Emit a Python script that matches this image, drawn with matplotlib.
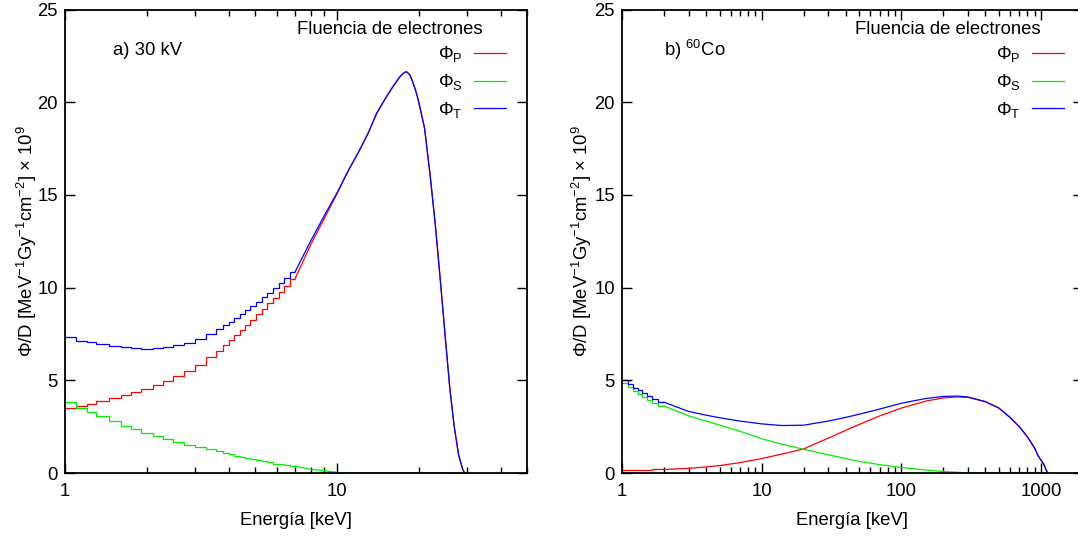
import matplotlib
matplotlib.use("Agg")
import matplotlib.pyplot as plt
from matplotlib.ticker import FixedLocator, FixedFormatter, LogLocator, NullFormatter

plt.rcParams['font.family'] = ['Liberation Sans', 'DejaVu Sans']
plt.rcParams['mathtext.fontset'] = 'custom'
plt.rcParams['mathtext.rm'] = 'Liberation Sans'
plt.rcParams['mathtext.it'] = 'Liberation Sans:italic'
plt.rcParams['mathtext.bf'] = 'Liberation Sans:bold'

# ---------------- Panel a) 30 kV ----------------
a_step_edges = [1.0, 1.1, 1.2, 1.3, 1.45, 1.6, 1.75, 1.9, 2.1, 2.3, 2.5, 2.75, 3.0, 3.3,
                3.6, 3.8, 4.0, 4.2, 4.4, 4.6, 4.8, 5.05, 5.3, 5.55, 5.8, 6.1, 6.4, 6.7, 7.0]
a_step_P = [3.50, 3.62, 3.74, 3.90, 4.05, 4.22, 4.38, 4.55, 4.76, 4.98, 5.22, 5.50, 5.84,
            6.25, 6.60, 6.88, 7.15, 7.42, 7.70, 7.96, 8.25, 8.55, 8.85, 9.15, 9.45, 9.78,
            10.10, 10.45]
a_step_S = [3.85, 3.50, 3.30, 3.05, 2.80, 2.55, 2.35, 2.15, 1.98, 1.82, 1.66, 1.52, 1.40,
            1.27, 1.16, 1.08, 1.00, 0.93, 0.87, 0.81, 0.75, 0.69, 0.63, 0.57, 0.51, 0.46,
            0.41, 0.37]
a_step_T = [7.35, 7.12, 7.04, 6.95, 6.85, 6.77, 6.73, 6.70, 6.74, 6.80, 6.88, 7.02, 7.24,
            7.52, 7.76, 7.96, 8.15, 8.35, 8.57, 8.77, 9.00, 9.24, 9.48, 9.72, 9.96, 10.24,
            10.51, 10.82]

a_E = [7.0, 8.0, 9.0, 10.0, 11.0, 12.0, 13.0, 14.0, 15.0, 16.0, 17.0, 17.5, 18.0, 18.5,
       19.0, 19.5, 20.0, 21.0, 22.0, 23.0, 24.0, 25.0, 26.0, 27.0, 28.0, 29.0, 29.5]
a_P = [10.45, 12.30, 13.75, 15.05, 16.30, 17.30, 18.30, 19.40, 20.15, 20.80, 21.35, 21.55,
       21.65, 21.50, 21.10, 20.60, 20.00, 18.60, 16.10, 13.40, 10.40, 7.40, 4.60, 2.50,
       1.00, 0.20, 0.00]
a_S = [0.37, 0.20, 0.12, 0.04, 0.0, 0.0, 0.0, 0.0, 0.0, 0.0, 0.0, 0.0, 0.0, 0.0, 0.0, 0.0,
       0.0, 0.0, 0.0, 0.0, 0.0, 0.0, 0.0, 0.0, 0.0, 0.0, 0.0]
a_T = [10.82, 12.50, 13.90, 15.10, 16.30, 17.30, 18.30, 19.40, 20.15, 20.80, 21.35, 21.55,
       21.65, 21.50, 21.10, 20.60, 20.00, 18.60, 16.10, 13.40, 10.40, 7.40, 4.60, 2.50,
       1.00, 0.20, 0.00]

# ---------------- Panel b) 60Co ----------------
b_step_edges = [1.0, 1.1, 1.2, 1.3, 1.4, 1.5, 1.65, 1.8, 2.0]
b_step_P = [0.16, 0.16, 0.17, 0.17, 0.18, 0.18, 0.19, 0.19]
b_step_S = [4.85, 4.62, 4.42, 4.25, 4.10, 3.95, 3.80, 3.62]
b_step_T = [5.00, 4.80, 4.60, 4.45, 4.30, 4.15, 4.00, 3.82]

b_E = [2, 3, 4, 5, 7, 10, 14, 20, 30, 40, 50, 70, 100, 150, 200, 250, 300, 400, 500, 600,
       700, 800, 900, 950, 1000, 1050, 1100, 1120]
b_P = [0.19, 0.25, 0.33, 0.40, 0.56, 0.78, 1.02, 1.30, 1.88, 2.30, 2.62, 3.08, 3.50, 3.88,
       4.05, 4.10, 4.08, 3.85, 3.50, 3.00, 2.50, 1.95, 1.35, 0.95, 0.70, 0.45, 0.10, 0.00]
b_S = [3.62, 3.08, 2.80, 2.58, 2.25, 1.85, 1.55, 1.28, 0.98, 0.78, 0.63, 0.45, 0.30, 0.16,
       0.08, 0.04, 0.01, 0.0, 0.0, 0.0, 0.0, 0.0, 0.0, 0.0, 0.0, 0.0, 0.0, 0.0]
b_T = [3.82, 3.32, 3.12, 2.98, 2.80, 2.65, 2.56, 2.58, 2.80, 3.00, 3.17, 3.45, 3.76, 4.02,
       4.13, 4.15, 4.10, 3.85, 3.50, 3.00, 2.50, 1.95, 1.35, 0.95, 0.70, 0.45, 0.10, 0.00]

labels = [r'$\Phi_\mathrm{P}$', r'$\Phi_\mathrm{S}$', r'$\Phi_\mathrm{T}$']
colors = ['#ff0000', '#00ee00', '#0000ff']
yticks = [0, 5, 10, 15, 20, 25]

FS = 13.3
W, H = 1078, 537
fig = plt.figure(figsize=(W / 100, H / 100), dpi=100)
ax1 = fig.add_axes([65 / W, 64 / H, 462 / W, 463.5 / H])
ax2 = fig.add_axes([622 / W, 64 / H, 461 / W, 463.5 / H])


def draw(ax, edges, steps, E, series, xlim, xt, xtl, tag, lx, tx, ylx):
    handles = []
    for st, ser, c, lab in zip(steps, series, colors, labels):
        ax.stairs(st, edges, baseline=None, color=c, lw=0.9)
        h, = ax.plot(E, ser, color=c, lw=0.9, label=lab)
        handles.append(h)
    ax.set_xscale('log')
    ax.set_xlim(*xlim)
    ax.set_ylim(0, 25)
    ax.xaxis.set_major_locator(FixedLocator(xt))
    ax.xaxis.set_major_formatter(FixedFormatter(xtl))
    ax.xaxis.set_minor_locator(LogLocator(base=10, subs=range(2, 10), numticks=20))
    ax.xaxis.set_minor_formatter(NullFormatter())
    ax.set_yticks(yticks)
    ax.set_yticklabels([str(v) for v in yticks])
    ax.tick_params(which='both', direction='in', top=True, right=True, labelsize=FS)
    ax.tick_params(which='major', length=7, width=1.0)
    ax.tick_params(which='minor', length=4, width=1.0)
    ax.tick_params(axis='x', which='major', pad=7)
    ax.tick_params(axis='y', which='major', pad=5)
    for s in ax.spines.values():
        s.set_linewidth(1.3)
    ax.set_xlabel('Energía [keV]', fontsize=FS, labelpad=9)
    ax.set_ylabel('Φ/D [MeV$^{-1}$Gy$^{-1}$cm$^{-2}$] × 10$^{9}$', fontsize=FS)
    ax.yaxis.set_label_coords(ylx, 0.5)
    ax.text(tx, 0.912, tag, transform=ax.transAxes,
            fontsize=FS, ha='left', va='center')
    ax.text(lx, 0.956, 'Fluencia de electrones', transform=ax.transAxes,
            fontsize=FS, ha='right', va='center')
    leg = ax.legend(handles=handles, loc='upper right', bbox_to_anchor=(lx + 0.052, 0.925),
                    frameon=False, markerfirst=False, fontsize=FS, borderpad=0,
                    borderaxespad=0, handlelength=1.75, handletextpad=0.6,
                    labelspacing=0.42)
    for t in leg.get_texts():
        t.set_ha('right')


draw(ax1, a_step_edges, [a_step_P, a_step_S, a_step_T], a_E, [a_P, a_S, a_T],
     (1, 50), [1, 10], ['1', '10'], 'a) 30 kV', 0.903, 0.104, -0.057)
draw(ax2, b_step_edges, [b_step_P, b_step_S, b_step_T], b_E, [b_P, b_S, b_T],
     (1, 2000), [1, 10, 100, 1000], ['1', '10', '100', '1000'], 'b) $^{60}$Co', 0.907,
     0.091, -0.061)

fig.savefig('out.png', dpi=100)
